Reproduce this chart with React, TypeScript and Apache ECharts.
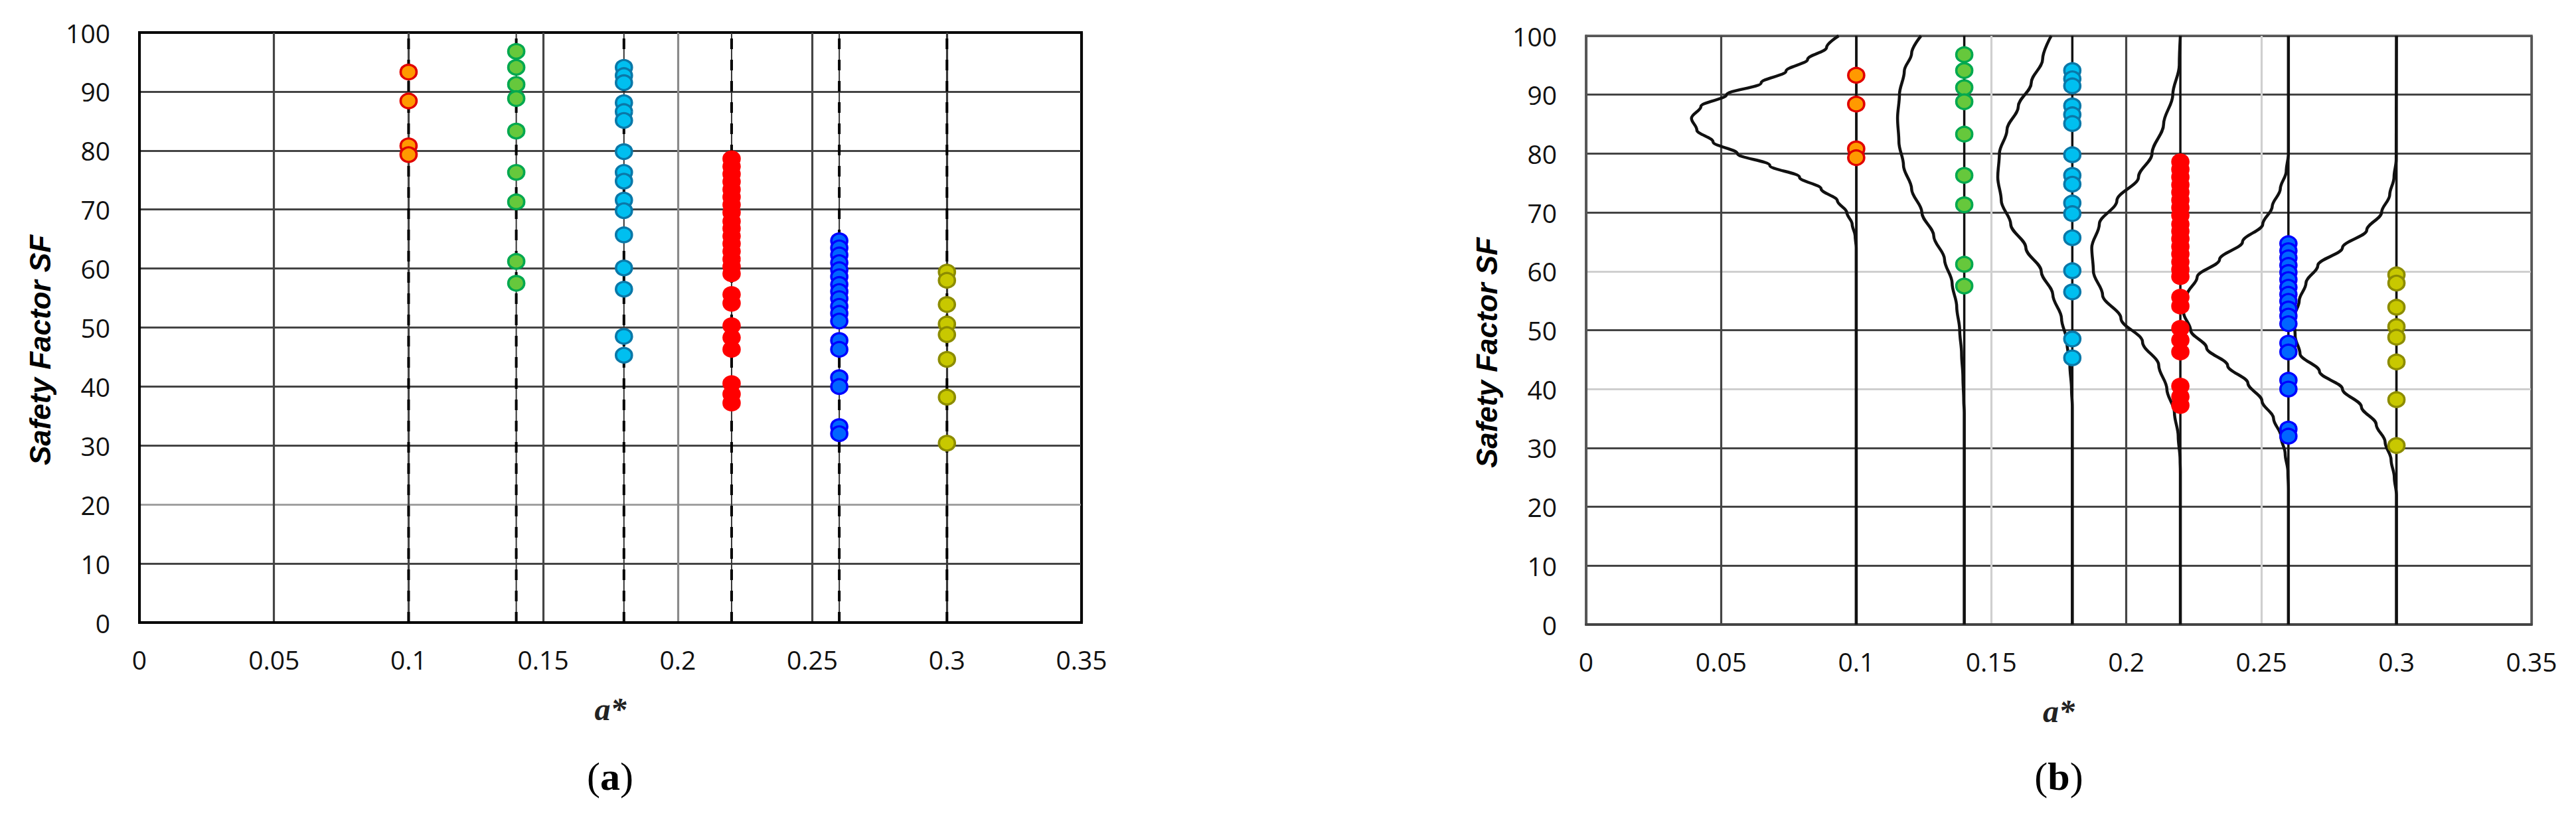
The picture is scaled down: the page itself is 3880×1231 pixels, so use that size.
import React, { useEffect, useRef } from "react";
import * as echarts from "echarts";

// ---- data ----
const A_VALUES = [0.1, 0.14, 0.18, 0.22, 0.26, 0.3];
const X_TICKS = [0, 0.05, 0.1, 0.15, 0.2, 0.25, 0.3, 0.35];
const Y_TICKS = [0, 10, 20, 30, 40, 50, 60, 70, 80, 90, 100];

const SF_A010 = [93.3, 88.4, 80.8, 79.3];
const SF_A014 = [96.8, 94.1, 91.2, 88.8, 83.3, 76.3, 71.3, 61.2, 57.5];
const SF_A018 = [94.1, 92.7, 91.5, 88.1, 86.6, 85.1, 79.8, 76.3, 74.8, 71.6, 69.8, 65.7, 60.1, 56.5, 48.5, 45.3];
const SF_A022 = [78.6, 77.3, 76.0, 74.7, 73.4, 72.1, 70.8, 69.5, 68.0, 66.8, 65.5, 64.2, 62.9, 61.6, 60.3, 59.1, 55.6, 54.1, 50.3, 48.3, 46.3, 40.5, 38.7, 37.2];
const SF_A026 = [64.7, 63.5, 62.3, 61.0, 59.8, 58.6, 57.3, 56.1, 54.9, 53.6, 52.4, 51.1, 47.8, 46.3, 41.5, 40.0, 33.2, 32.0];
const SF_A030 = [59.4, 58.0, 53.9, 50.6, 48.8, 44.6, 38.2, 30.4];
const SF_GROUPS = [SF_A010, SF_A014, SF_A018, SF_A022, SF_A026, SF_A030];

// distribution curves of panel (b): [SF, a*]
const CURVE_010 = [[100, 0.0935], [98, 0.089], [96, 0.082], [94, 0.074], [92, 0.0648], [90, 0.052], [88, 0.0425], [86, 0.039], [84, 0.041], [82, 0.047], [80, 0.056], [78, 0.068], [76, 0.079], [74, 0.087], [72, 0.093], [70, 0.0965], [68, 0.0985], [66, 0.0996], [64, 0.1], [0, 0.1]];
const CURVE_014 = [[100, 0.124], [97, 0.1205], [94, 0.1178], [90, 0.116], [86, 0.1153], [82, 0.1158], [78, 0.1175], [74, 0.1205], [70, 0.1243], [66, 0.1287], [62, 0.1327], [58, 0.1355], [54, 0.1372], [50, 0.1383], [46, 0.139], [42, 0.1395], [38, 0.1398], [36, 0.14], [0, 0.14]];
const CURVE_018 = [[100, 0.1722], [96, 0.169], [92, 0.1648], [88, 0.16], [84, 0.1558], [80, 0.153], [76, 0.1524], [72, 0.1537], [68, 0.1572], [64, 0.1628], [60, 0.1685], [56, 0.1728], [52, 0.176], [48, 0.178], [44, 0.1791], [40, 0.1797], [37, 0.18], [0, 0.18]];
const CURVE_022 = [[100, 0.22], [95, 0.2196], [90, 0.2172], [85, 0.2138], [80, 0.2095], [76, 0.2045], [72, 0.1965], [68, 0.19], [64, 0.1872], [60, 0.1878], [56, 0.1912], [52, 0.198], [48, 0.206], [44, 0.212], [40, 0.215], [36, 0.2178], [32, 0.2192], [28, 0.2199], [26, 0.22], [0, 0.22]];
const CURVE_026 = [[100, 0.26], [80, 0.26], [77, 0.2592], [74, 0.257], [71, 0.254], [68, 0.2505], [65, 0.243], [62, 0.2345], [59, 0.2262], [56, 0.2225], [53, 0.2212], [50, 0.2238], [47, 0.2297], [44, 0.2375], [41, 0.245], [38, 0.2502], [35, 0.2545], [32, 0.2572], [29, 0.2588], [26, 0.2598], [23, 0.26], [0, 0.26]];
const CURVE_030 = [[100, 0.3], [79, 0.2999], [76, 0.2991], [73, 0.2975], [70, 0.2945], [67, 0.289], [64, 0.28], [61, 0.2709], [58, 0.2665], [55, 0.264], [52, 0.262], [49, 0.2625], [46, 0.2643], [43, 0.2715], [40, 0.28], [37, 0.287], [34, 0.2925], [31, 0.2958], [28, 0.298], [25, 0.2992], [22, 0.3], [0, 0.3]];
const CURVES = [CURVE_010, CURVE_014, CURVE_018, CURVE_022, CURVE_026, CURVE_030];

const FILLS = ["#FF9900", "#66C83C", "#00BFF0", "#FF0000", "#0066FF", "#C8C800"];
const BORDERS = ["#E00000", "#00A84F", "#0A78A8", "#FF0000", "#0000FF", "#8C8C00"];

const LABEL_FONT = "'Open Sans', 'Liberation Sans', sans-serif";
const DARK = "#444";
const LIGHT = "#cfcfcf";

export default function App() {
  const ref = useRef<HTMLDivElement>(null);
  useEffect(() => {
    document.body.style.margin = "0";
    if (!ref.current) return;
    const chart = echarts.init(ref.current, undefined, { renderer: "svg" });

    const grids = [
      { left: 210, top: 49, width: 1419, height: 889, show: true, borderColor: "#000", borderWidth: 4 },
      { left: 2389, top: 54, width: 1424, height: 887, show: true, borderColor: "#555", borderWidth: 3.5 },
    ];

    const xSplit = [
      ["#000", DARK, DARK, DARK, "#8a8a8a", DARK, DARK, "#000"],
      ["#555", DARK, DARK, LIGHT, DARK, LIGHT, DARK, "#555"],
    ];
    const ySplit = [
      ["#000", DARK, "#a0a0a0", DARK, DARK, DARK, DARK, DARK, DARK, DARK, "#000"],
      ["#555", DARK, DARK, DARK, LIGHT, DARK, LIGHT, DARK, DARK, DARK, "#555"],
    ];

    const xAxis = [0, 1].map((i) => ({
      type: "value",
      gridIndex: i,
      min: X_TICKS[0],
      max: X_TICKS[X_TICKS.length - 1],
      interval: X_TICKS[1] - X_TICKS[0],
      name: "a*",
      nameLocation: "middle",
      nameGap: 106,
      nameTextStyle: { fontFamily: "'Liberation Serif', serif", fontStyle: "italic", fontWeight: "bold", fontSize: 48, color: "#222" },
      axisLine: { show: true, onZero: false, lineStyle: { color: i === 0 ? "#000" : "#444", width: 4 } },
      axisTick: { show: false },
      axisLabel: { margin: 36, fontSize: 39, color: "#111", fontFamily: LABEL_FONT },
      splitLine: { show: true, lineStyle: { color: xSplit[i], width: 3.2 } },
    }));
    const yAxis = [0, 1].map((i) => ({
      type: "value",
      gridIndex: i,
      min: Y_TICKS[0],
      max: Y_TICKS[Y_TICKS.length - 1],
      interval: Y_TICKS[1] - Y_TICKS[0],
      name: "Safety Factor SF",
      nameLocation: "middle",
      nameGap: 128,
      nameTextStyle: {
        fontFamily: "'Liberation Sans', Arial, sans-serif", fontStyle: "italic", fontWeight: "bold",
        fontSize: 44, color: "#000", padding: [0, 68, 0, 0],
      },
      axisLine: { show: true, onZero: false, lineStyle: { color: i === 0 ? "#000" : "#555", width: i === 0 ? 4 : 3.5 } },
      axisTick: { show: false },
      axisLabel: { margin: 44, fontSize: 39, color: "#111", fontFamily: LABEL_FONT },
      splitLine: { show: true, lineStyle: { color: ySplit[i], width: 3.2 } },
    }));

    const series: any[] = [];
    // panel (a): dashed guide lines at each a*
    A_VALUES.forEach((a, k) => {
      if (k > 0) {
        series.push({
          type: "line", xAxisIndex: 0, yAxisIndex: 0, silent: true, showSymbol: false, symbol: "none",
          data: [[a, Y_TICKS[0]], [a, Y_TICKS[Y_TICKS.length - 1]]],
          lineStyle: { color: "#333", width: 2 }, z: 2,
        });
      }
      series.push({
        type: "line", xAxisIndex: 0, yAxisIndex: 0, silent: true, showSymbol: false, symbol: "none",
        data: [[a, Y_TICKS[0]], [a, Y_TICKS[Y_TICKS.length - 1]]],
        lineStyle: { color: "#000", width: 4, type: [16, 16] }, z: 3,
      });
    });
    // panel (b): vertical lines and distribution curves
    A_VALUES.forEach((a, k) => {
      series.push({
        type: "line", xAxisIndex: 1, yAxisIndex: 1, silent: true, showSymbol: false, symbol: "none",
        data: [[a, Y_TICKS[0]], [a, Y_TICKS[Y_TICKS.length - 1]]],
        lineStyle: { color: "#111", width: 3.5 }, z: 2,
      });
      series.push({
        type: "line", xAxisIndex: 1, yAxisIndex: 1, silent: true, showSymbol: false, symbol: "none",
        smooth: 0.35, smoothMonotone: "y",
        data: CURVES[k].map((p) => [p[1], p[0]]),
        lineStyle: { color: "#111", width: 4.5 }, z: 3,
      });
    });
    // scatter points on both panels
    [0, 1].forEach((g) => {
      SF_GROUPS.forEach((arr, k) => {
        series.push({
          type: "scatter", xAxisIndex: g, yAxisIndex: g, silent: true,
          data: arr.map((sf) => [A_VALUES[k], sf]),
          symbol: "circle", symbolSize: [24, 22],
          itemStyle: { color: FILLS[k], borderColor: BORDERS[k], borderWidth: 3.5, opacity: 1 },
          z: 5,
        });
      });
    });

    const panelLabel = (cx: number, letter: string) => ({
      type: "text",
      x: cx,
      y: 1170,
      style: {
        text: "{p|(}{b|" + letter + "}{p|)}",
        align: "center",
        verticalAlign: "middle",
        rich: {
          p: { fontFamily: "'Liberation Serif', serif", fontSize: 60, fill: "#000" },
          b: { fontFamily: "'Liberation Serif', serif", fontSize: 60, fontWeight: "bold", fill: "#000" },
        },
      },
    });

    chart.setOption({
      animation: false,
      backgroundColor: "#fff",
      grid: grids,
      xAxis,
      yAxis,
      series,
      graphic: [panelLabel(919, "a"), panelLabel(3101, "b")],
    });
    return () => chart.dispose();
  }, []);
  return <div ref={ref} style={{ width: 3880, height: 1231 }} />;
}
